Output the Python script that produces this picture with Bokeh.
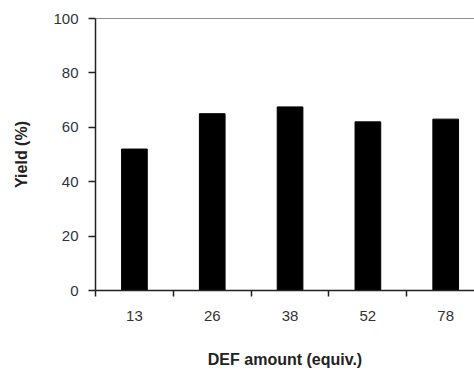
from bokeh.plotting import figure
from bokeh.models import FixedTicker, Range1d, Span
from bokeh.embed import file_html
from bokeh.resources import INLINE

# DEF amount (equiv.) and the yield obtained for each
categories = ["13", "26", "38", "52", "78"]
yields = [52, 65, 67.5, 62, 63]
y_ticks = [0, 20, 40, 60, 80, 100]

centers = [i + 0.5 for i in range(len(categories))]
bounds = list(range(len(categories)))

p = figure(width=474, height=370, output_backend="svg", toolbar_location=None,
           x_range=Range1d(0, 4.87), y_range=Range1d(0, 100))
p.min_border_left = 95
p.min_border_top = 18
p.min_border_right = 0
p.min_border_bottom = 80
p.outline_line_color = None
p.grid.visible = False
p.background_fill_color = "white"
p.border_fill_color = "white"

p.vbar(x=centers, top=yields, width=0.33, fill_color="black", line_color="black")

# top frame line
p.add_layout(Span(location=100, dimension="width", line_color="#222222", line_width=1))

font = "Liberation Sans"

xa = p.xaxis[0]
xa.ticker = FixedTicker(ticks=centers, minor_ticks=bounds)
xa.major_label_overrides = {c: lab for c, lab in zip(centers, categories)}
xa.major_tick_line_color = None
xa.minor_tick_line_color = "#222222"
xa.minor_tick_line_width = 1.5
xa.minor_tick_in = 0
xa.minor_tick_out = 6
xa.axis_line_color = "#222222"
xa.axis_line_width = 1.5
xa.major_label_standoff = 14
xa.major_label_text_font = font
xa.major_label_text_font_size = "15px"
xa.major_label_text_color = "#333333"
xa.axis_label = "DEF amount (equiv.)"
xa.axis_label_text_font = font
xa.axis_label_text_font_size = "16px"
xa.axis_label_text_font_style = "bold"
xa.axis_label_text_color = "#222222"
xa.axis_label_standoff = 27

ya = p.yaxis[0]
ya.ticker = FixedTicker(ticks=y_ticks, minor_ticks=[])
ya.major_tick_line_color = "#222222"
ya.major_tick_line_width = 1.5
ya.major_tick_in = 0
ya.major_tick_out = 7
ya.axis_line_color = "#222222"
ya.axis_line_width = 1.5
ya.major_label_standoff = 10
ya.major_label_text_font = font
ya.major_label_text_font_size = "15px"
ya.major_label_text_color = "#333333"
ya.axis_label = "Yield (%)"
ya.axis_label_text_font = font
ya.axis_label_text_font_size = "16px"
ya.axis_label_text_font_style = "bold"
ya.axis_label_text_color = "#222222"
ya.axis_label_standoff = 20

open("out.html", "w").write(file_html(p, INLINE))
